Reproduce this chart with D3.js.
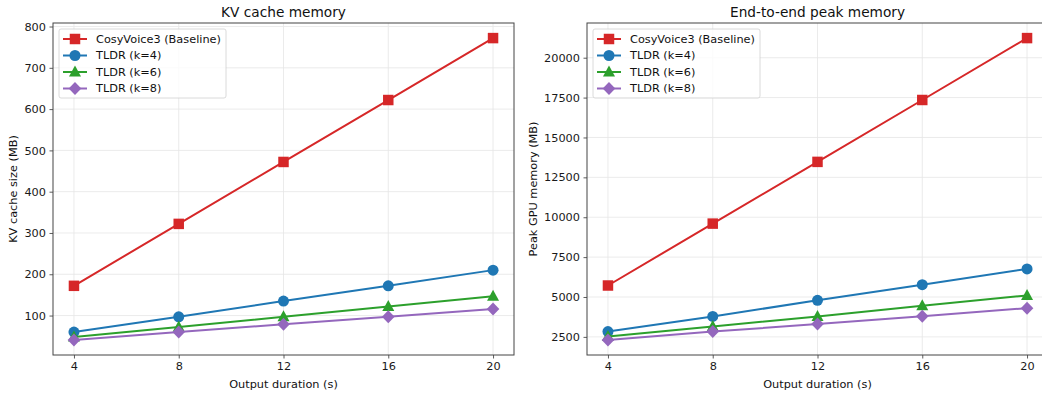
<!DOCTYPE html>
<html>
<head>
<meta charset="utf-8">
<script src="https://cdn.jsdelivr.net/npm/d3@7"></script>
<style>
  body { margin: 0; background: #fff; }
  svg { font-family: "DejaVu Sans", sans-serif; }
</style>
</head>
<body>
<div id="chart"></div>
<script>
const durations = [4, 8, 12, 16, 20];
const seriesNames = ["CosyVoice3 (Baseline)", "TLDR (k=4)", "TLDR (k=6)", "TLDR (k=8)"];
const seriesColors = ["#d62728", "#1f77b4", "#2ca02c", "#9467bd"];
const seriesMarkers = ["square", "circle", "triangle", "diamond"];

// KV cache size (MB)
const kvCosy = [172, 322, 472, 622, 772];
const kvK4 = [60, 97, 135, 172, 210];
const kvK6 = [48, 72, 97, 122, 147];
const kvK8 = [41, 60, 79, 97, 116];
const kvTicks = [100, 200, 300, 400, 500, 600, 700, 800];

// Peak GPU memory (MB)
const peakCosy = [5720, 9600, 13470, 17350, 21230];
const peakK4 = [2830, 3780, 4790, 5770, 6760];
const peakK6 = [2520, 3150, 3780, 4450, 5100];
const peakK8 = [2310, 2830, 3300, 3800, 4300];
const peakTicks = [2500, 5000, 7500, 10000, 12500, 15000, 17500, 20000];

const width = 1042, height = 394;
const svg = d3.select("#chart").append("svg")
  .attr("width", width)
  .attr("height", height);

const panels = [
  { title: "KV cache memory", ylabel: "KV cache size (MB)", series: [kvCosy, kvK4, kvK6, kvK8],
    ticks: kvTicks, left: 53, right: 514, ylabelX: 13 },
  { title: "End-to-end peak memory", ylabel: "Peak GPU memory (MB)", series: [peakCosy, peakK4, peakK6, peakK8],
    ticks: peakTicks, left: 587, right: 1048, ylabelX: 533 }
];
const plotTop = 23, plotBottom = 355;
const fs = "11.3px";

function markerPath(type) {
  if (type === "square") return d3.symbol(d3.symbolSquare, 110)();
  if (type === "circle") return d3.symbol(d3.symbolCircle, 95)();
  if (type === "triangle") return "M0,-6.5L6,4.5L-6,4.5Z";
  return "M0,-6.5L6.3,0L0,6.5L-6.3,0Z";
}

panels.forEach(p => {
  const all = p.series.flat();
  const ymin = d3.min(all), ymax = d3.max(all);
  const pad = (ymax - ymin) * 0.05;
  const x = d3.scaleLinear().domain([4 - 0.8, 20 + 0.8]).range([p.left, p.right]);
  const y = d3.scaleLinear().domain([ymin - pad, ymax + pad]).range([plotBottom, plotTop]);

  const g = svg.append("g");

  // grid
  g.append("g").selectAll("line").data(durations).enter().append("line")
    .attr("x1", d => x(d)).attr("x2", d => x(d))
    .attr("y1", plotTop).attr("y2", plotBottom)
    .style("stroke", "#e6e6e6").style("stroke-width", 0.8);
  g.append("g").selectAll("line").data(p.ticks).enter().append("line")
    .attr("x1", p.left).attr("x2", p.right)
    .attr("y1", d => y(d)).attr("y2", d => y(d))
    .style("stroke", "#e6e6e6").style("stroke-width", 0.8);

  // axes
  const xAxis = g.append("g").attr("transform", `translate(0,${plotBottom})`)
    .call(d3.axisBottom(x).tickValues(durations).tickSize(3.5).tickPadding(3.5));
  const yAxis = g.append("g").attr("transform", `translate(${p.left},0)`)
    .call(d3.axisLeft(y).tickValues(p.ticks).tickFormat(d3.format("d")).tickSize(3.5).tickPadding(3.5));
  [xAxis, yAxis].forEach(a => {
    a.select(".domain").remove();
    a.selectAll("line").style("stroke", "#333").style("stroke-width", 0.8);
    a.selectAll("text").style("font-size", fs).style("fill", "#1a1a1a")
      .style("font-family", "DejaVu Sans, sans-serif");
  });

  // spines
  g.append("rect")
    .attr("x", p.left).attr("y", plotTop)
    .attr("width", p.right - p.left).attr("height", plotBottom - plotTop)
    .style("fill", "none").style("stroke", "#444").style("stroke-width", 1);

  // lines and markers
  const line = d3.line().x((d, i) => x(durations[i])).y(d => y(d));
  p.series.forEach((vals, si) => {
    g.append("path").datum(vals)
      .attr("d", line)
      .style("fill", "none").style("stroke", seriesColors[si]).style("stroke-width", 2);
    g.append("g").selectAll("path").data(vals).enter().append("path")
      .attr("transform", (d, i) => `translate(${x(durations[i])},${y(d)})`)
      .attr("d", markerPath(seriesMarkers[si]))
      .style("fill", seriesColors[si]);
  });

  // titles
  svg.append("text")
    .attr("x", (p.left + p.right) / 2)
    .attr("y", 17)
    .attr("text-anchor", "middle")
    .style("font-size", "13.7px").style("fill", "#111")
    .text(p.title);
  svg.append("text")
    .attr("x", (p.left + p.right) / 2)
    .attr("y", 388)
    .attr("text-anchor", "middle")
    .style("font-size", fs).style("fill", "#111")
    .text("Output duration (s)");
  svg.append("text")
    .attr("transform", `translate(${p.ylabelX},${(plotTop + plotBottom) / 2}) rotate(-90)`)
    .attr("text-anchor", "middle")
    .attr("dy", "0.35em")
    .style("font-size", fs).style("fill", "#111")
    .text(p.ylabel);

  // legend
  const lg = g.append("g").attr("transform", `translate(${p.left + 6},29)`);
  lg.append("rect")
    .attr("width", 167).attr("height", 69).attr("rx", 2)
    .style("fill", "#fff").style("fill-opacity", 0.8)
    .style("stroke", "#d0d0d0").style("stroke-width", 0.8);
  seriesNames.forEach((name, si) => {
    const row = lg.append("g").attr("transform", `translate(0,${10 + si * 16.5})`);
    row.append("line").attr("x1", 4).attr("x2", 28).attr("y1", 0).attr("y2", 0)
      .style("stroke", seriesColors[si]).style("stroke-width", 2);
    row.append("path").attr("transform", "translate(16,0)")
      .attr("d", markerPath(seriesMarkers[si]))
      .style("fill", seriesColors[si]);
    row.append("text").attr("x", 37).attr("y", 0).attr("dy", "0.35em")
      .style("font-size", fs).style("fill", "#111")
      .text(name);
  });
});
</script>
</body>
</html>
